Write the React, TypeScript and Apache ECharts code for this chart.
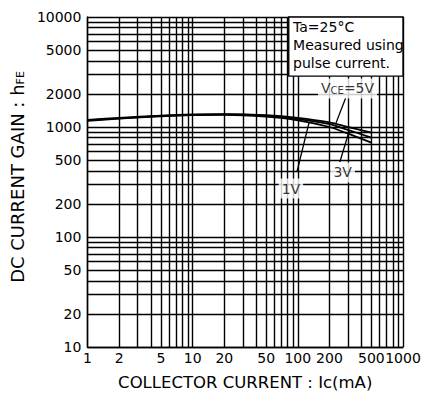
import React, { useEffect, useRef } from 'react';
import * as echarts from 'echarts';

// Collector current Ic (mA)
const collectorCurrent = [1, 2, 5, 10, 20, 50, 100, 200, 300, 500];
// DC current gain hFE for each VCE
const gain5V = [1160, 1210, 1270, 1300, 1310, 1280, 1210, 1100, 1000, 890];
const gain3V = [1150, 1200, 1260, 1290, 1300, 1260, 1180, 1060, 940, 800];
const gain1V = [1140, 1190, 1250, 1280, 1290, 1240, 1150, 1000, 870, 720];

// labelled tick values
const xTickLabels = [1, 2, 5, 10, 20, 50, 100, 200, 500, 1000];
const yTickLabels = [10, 20, 50, 100, 200, 500, 1000, 2000, 5000, 10000];

// minor grid lines of the log paper
const xGridValues = [2, 3, 4, 5, 6, 7, 8, 9, 20, 30, 40, 50, 60, 70, 80, 90, 200, 300, 400, 500, 600, 700, 800, 900];
const yGridValues = [20, 30, 40, 50, 60, 70, 80, 90, 200, 300, 400, 500, 600, 700, 800, 900, 2000, 3000, 4000, 5000, 6000, 7000, 8000, 9000];

// annotation box corners [Ic, hFE]
const noteBox = [[82, 2900], [1000, 10000]];
const noteText = ['Ta=25°C', 'Measured using', 'pulse current.'];

// curve labels [Ic, hFE] and their leader lines
const curveLabels = [
  { name: 'V{s|CE}=5V', at: [297, 2240] },
  { name: '3V', at: [267, 386] },
  { name: '1V', at: [86, 276] },
];
const leaders = [
  [[285, 1835], [231, 1090]],
  [[251, 481], [310, 939]],
  [[98, 390], [128, 1100]],
];

const FONT = 'DejaVu Sans';

export default function App() {
  const ref = useRef<HTMLDivElement>(null);
  useEffect(() => {
    const chart = echarts.init(ref.current!, null, { renderer: 'svg' });
    const pair = (ys: number[]) => collectorCurrent.map((x, i) => [x, ys[i]]);
    const curve = (name: string, ys: number[]) => ({
      name,
      type: 'line',
      data: pair(ys),
      smooth: 0.3,
      showSymbol: false,
      symbol: 'none',
      z: 6,
      lineStyle: { color: '#000', width: 1.8 },
      silent: true,
    });
    const lineStyle = { color: '#000', width: 1.4, type: 'solid' };
    const tickFmt = (v: number) => String(v);
    chart.setOption({
      animation: false,
      backgroundColor: '#fff',
      grid: { left: 73, top: 17, width: 330, height: 330, containLabel: false },
      xAxis: {
        type: 'log',
        logBase: 10,
        min: 1,
        max: 1000,
        name: 'COLLECTOR CURRENT : Ic(mA)',
        nameLocation: 'middle',
        nameGap: 27,
        nameTextStyle: { fontFamily: FONT, fontSize: 16.5, color: '#000' },
        axisLine: { show: true, lineStyle: { color: '#000', width: 1.4 } },
        axisTick: { show: false },
        axisLabel: { show: true, margin: 4, fontFamily: FONT, fontSize: 14, color: '#000', formatter: tickFmt },
        splitLine: { show: true, lineStyle },
        minorTick: { show: false },
      },
      yAxis: {
        type: 'log',
        logBase: 10,
        min: 10,
        max: 10000,
        name: 'DC CURRENT GAIN : h{s|FE}',
        nameLocation: 'middle',
        nameGap: 46,
        nameTextStyle: {
          fontFamily: FONT,
          fontSize: 18,
          color: '#000',
          padding: [0, 0, 0, 10],
          rich: { s: { fontFamily: FONT, fontSize: 11, verticalAlign: 'bottom', color: '#000' } },
        },
        axisLine: { show: true, lineStyle: { color: '#000', width: 1.4 } },
        axisTick: { show: false },
        axisLabel: { show: true, margin: 6, fontFamily: FONT, fontSize: 14, color: '#000', formatter: tickFmt },
        splitLine: { show: true, lineStyle },
        minorTick: { show: false },
      },
      series: [
        {
          name: 'grid',
          type: 'line',
          data: [],
          silent: true,
          markLine: {
            z: 1,
            silent: true,
            symbol: ['none', 'none'],
            animation: false,
            lineStyle,
            emphasis: { disabled: true },
            data: [
              ...xGridValues.map((v) => ({
                xAxis: v,
                label: {
                  show: xTickLabels.includes(v),
                  position: 'start',
                  distance: 4,
                  formatter: String(v),
                  fontFamily: FONT,
                  fontSize: 14,
                  color: '#000',
                },
              })),
              ...yGridValues.map((v) => ({
                yAxis: v,
                label: {
                  show: yTickLabels.includes(v),
                  position: 'start',
                  distance: 6,
                  formatter: String(v),
                  fontFamily: FONT,
                  fontSize: 14,
                  color: '#000',
                },
              })),
            ],
          },
          markArea: {
            z: 3,
            silent: true,
            itemStyle: { color: '#fff', borderColor: '#000', borderWidth: 1.4 },
            label: {
              show: true,
              position: 'insideTopLeft',
              distance: 2,
              padding: [0, 0, 0, 3],
              formatter: noteText.join('\n'),
              fontFamily: FONT,
              fontSize: 14,
              lineHeight: 18,
              color: '#000',
            },
            emphasis: { disabled: true },
            data: [[{ coord: noteBox[0] }, { coord: noteBox[1] }]],
          },
        },
        {
          name: 'leaders',
          type: 'line',
          data: [],
          silent: true,
          markLine: {
            z: 4,
            silent: true,
            symbol: ['none', 'none'],
            lineStyle: { color: '#000', width: 1.3, type: 'solid' },
            label: { show: false },
            emphasis: { disabled: true },
            data: leaders.map(([a, b]) => [{ coord: a }, { coord: b }]),
          },
        },
        {
          name: 'labels',
          type: 'scatter',
          z: 5,
          silent: true,
          symbolSize: 0,
          data: curveLabels.map((c) => ({ value: c.at, name: c.name })),
          label: {
            show: true,
            position: 'inside',
            formatter: (p: any) => p.name,
            fontFamily: FONT,
            fontSize: 14,
            color: '#000',
            backgroundColor: '#fff',
            padding: [3, 3],
            rich: { s: { fontFamily: FONT, fontSize: 10, verticalAlign: 'bottom', color: '#000' } },
          },
        },
        curve('1V', gain1V),
        curve('3V', gain3V),
        curve('5V', gain5V),
      ],
    });
    return () => chart.dispose();
  }, []);
  return (
    <div
      ref={ref}
      style={{ position: 'fixed', left: 0, top: 0, width: 424, height: 400, background: '#fff' }}
    />
  );
}
